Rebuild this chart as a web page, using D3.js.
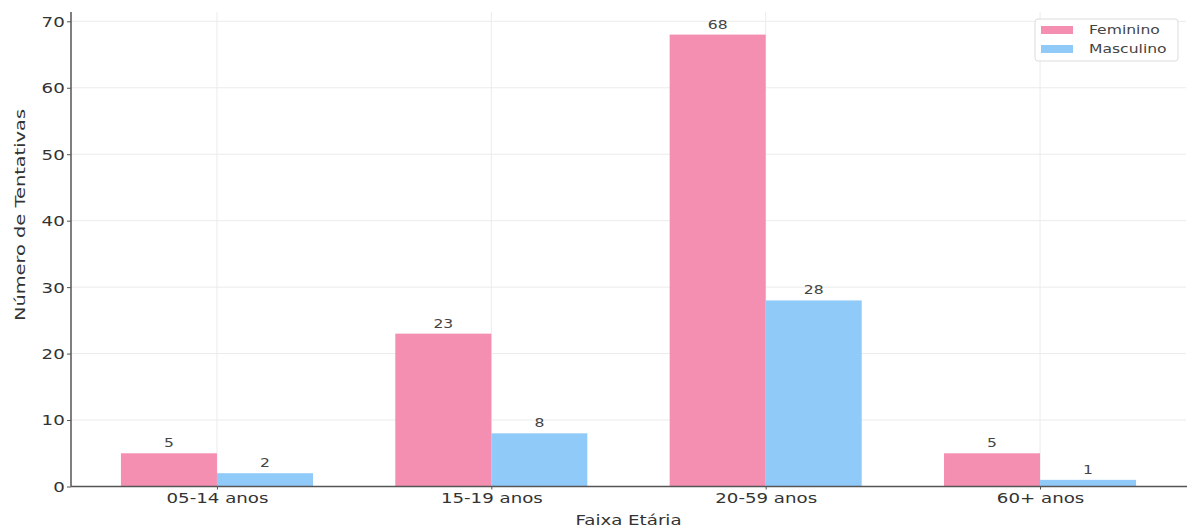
<!DOCTYPE html>
<html>
<head>
<meta charset="utf-8">
<script src="https://cdn.jsdelivr.net/npm/d3@7"></script>
<style>
  html, body { margin: 0; padding: 0; background: #fff; }
  svg text { font-family: "DejaVu Sans", sans-serif; }
</style>
</head>
<body>
<svg id="chart" width="1187" height="529"></svg>
<script>
// Data
const faixas = ['05-14 anos', '15-19 anos', '20-59 anos', '60+ anos'];
const feminino = [5, 23, 68, 5];
const masculino = [2, 8, 28, 1];
const seriesNames = ['Feminino', 'Masculino'];
const yTicks = [0, 10, 20, 30, 40, 50, 60, 70];

//Helpers
const translate = (x, y) => `translate(${x}, ${y})`;
const stretchX = 1.3; // the picture's text is a bit wide

const width = 1187, height = 529;
const margins = { top: 12, right: 1, bottom: 42, left: 71 };
const colors = { Feminino: '#F48FB1', Masculino: '#90CAF9' };
const barWidth = 0.35;

const svg = d3.select('#chart');

//Scales
const xScale = d3.scaleLinear()
    .domain([-0.532, faixas.length - 1 + 0.532])
    .range([margins.left, width - margins.right]);
const yScale = d3.scaleLinear()
    .domain([0, 71.4])
    .range([height - margins.bottom - 0.5, margins.top]);

const stretchedText = (sel, x, y) => sel.attr('transform', `${translate(x, y)} scale(${stretchX}, 1)`);

//Grid
const grid = svg.append('g').attr('class', 'grid');
grid.selectAll('line.h')
    .data(yTicks)
    .join('line')
    .attr('class', 'h')
    .attr('x1', margins.left)
    .attr('x2', width - margins.right)
    .attr('y1', d => yScale(d))
    .attr('y2', d => yScale(d))
    .attr('stroke', '#ebebeb')
    .attr('stroke-width', 1);
grid.selectAll('line.v')
    .data(faixas)
    .join('line')
    .attr('class', 'v')
    .attr('x1', (d, i) => xScale(i))
    .attr('x2', (d, i) => xScale(i))
    .attr('y1', margins.top)
    .attr('y2', yScale(0))
    .attr('stroke', '#ebebeb')
    .attr('stroke-width', 1);

//Bars
const series = [
    { name: 'Feminino', values: feminino, offset: -barWidth },
    { name: 'Masculino', values: masculino, offset: 0 },
];
for (const s of series) {
    const g = svg.append('g').attr('class', 'bars-' + s.name);
    g.selectAll('rect')
        .data(s.values)
        .join('rect')
        .attr('x', (d, i) => xScale(i + s.offset))
        .attr('width', xScale(barWidth) - xScale(0))
        .attr('y', d => yScale(d))
        .attr('height', d => yScale(0) - yScale(d))
        .attr('fill', colors[s.name]);
    g.selectAll('text')
        .data(s.values)
        .join('text')
        .attr('text-anchor', 'middle')
        .attr('font-size', 12)
        .attr('fill', '#444')
        .each((d, i, nodes) => {
            stretchedText(d3.select(nodes[i]), xScale(i + s.offset + barWidth / 2), yScale(d) - 6);
        })
        .text(d => d);
}

//Axes
const axisColor = '#555';
const yAxis = d3.axisLeft(yScale).tickValues(yTicks).tickSize(4).tickPadding(5);
const yAxisG = svg.append('g')
    .attr('transform', translate(margins.left, 0))
    .call(yAxis);
yAxisG.select('.domain').remove();
yAxisG.selectAll('.tick line').attr('stroke', axisColor);
yAxisG.selectAll('.tick text')
    .attr('font-size', 14)
    .attr('fill', '#333')
    .attr('font-family', '"DejaVu Sans", sans-serif')
    .attr('dy', '0.35em')
    .attr('transform', `scale(${stretchX}, 1) translate(${-9 / stretchX + 9}, 0)`)
    .attr('x', -9 / stretchX);

const xAxis = d3.axisBottom(xScale)
    .tickValues(d3.range(faixas.length))
    .tickFormat(i => faixas[i])
    .tickSize(3)
    .tickPadding(4);
const xAxisG = svg.append('g')
    .attr('transform', translate(0, yScale(0)))
    .call(xAxis);
xAxisG.select('.domain').remove();
xAxisG.selectAll('.tick line').attr('stroke', axisColor);
xAxisG.selectAll('.tick text')
    .attr('font-size', 14)
    .attr('fill', '#333')
    .attr('font-family', '"DejaVu Sans", sans-serif')
    .attr('transform', `scale(${stretchX}, 1)`);

// spines
svg.append('line')
    .attr('x1', margins.left).attr('x2', margins.left)
    .attr('y1', margins.top).attr('y2', yScale(0))
    .attr('stroke', axisColor).attr('stroke-width', 1.5);
svg.append('line')
    .attr('x1', margins.left).attr('x2', width)
    .attr('y1', yScale(0)).attr('y2', yScale(0))
    .attr('stroke', axisColor).attr('stroke-width', 1.5);

//Axis labels
svg.append('text')
    .attr('text-anchor', 'middle')
    .attr('font-size', 14)
    .attr('fill', '#333')
    .call(stretchedText, (xScale(-0.532) + xScale(3.532)) / 2, 525)
    .text('Faixa Etária');
svg.append('text')
    .attr('text-anchor', 'middle')
    .attr('font-size', 14)
    .attr('fill', '#333')
    .attr('transform', `${translate(25, 215)} rotate(-90)`)
    .attr('textLength', 212)
    .attr('lengthAdjust', 'spacingAndGlyphs')
    .text('Número de Tentativas');

//Legend
const legend = svg.append('g').attr('transform', translate(1035, 19));
legend.append('rect')
    .attr('width', 143).attr('height', 42)
    .attr('rx', 3)
    .attr('fill', 'white').attr('fill-opacity', 0.85)
    .attr('stroke', '#dcdcdc');
legend.selectAll('g.item')
    .data(seriesNames)
    .join('g')
    .attr('class', 'item')
    .attr('transform', (d, i) => translate(6, 11 + i * 19))
    .each((d, i, nodes) => {
        const g = d3.select(nodes[i]);
        g.append('rect')
            .attr('x', 0).attr('y', -4)
            .attr('width', 32).attr('height', 8)
            .attr('fill', colors[d]);
        g.append('text')
            .attr('font-size', 12)
            .attr('fill', '#444')
            .attr('dy', '0.35em')
            .call(stretchedText, 48, 0)
            .text(d);
    });
</script>
</body>
</html>
